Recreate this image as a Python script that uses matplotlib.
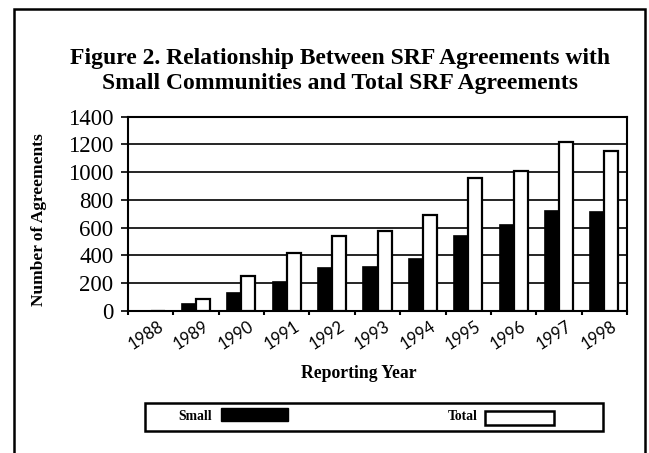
#!/usr/bin/env python3
"""Figure 2: SRF agreements with small communities vs total SRF agreements."""

import matplotlib
matplotlib.use("Agg")
import matplotlib.pyplot as plt
import numpy as np
from matplotlib.patches import Rectangle
from matplotlib.transforms import ScaledTranslation

YEARS = ["1988", "1989", "1990", "1991", "1992", "1993",
         "1994", "1995", "1996", "1997", "1998"]
SMALL = [0, 50, 130, 210, 310, 315, 370, 540, 620, 720, 710]
TOTAL = [0, 85, 250, 415, 540, 575, 690, 960, 1005, 1220, 1150]
SERIES = ["Small", "Total"]
Y_TICKS = [0, 200, 400, 600, 800, 1000, 1200, 1400]

TITLE_1 = "Figure 2. Relationship Between SRF Agreements with"
TITLE_2 = "Small Communities and Total SRF Agreements"
SERIF = "Liberation Serif"

W, H = 649, 453


def fx(px):
    return px / W


def fy(py):
    return 1 - py / H


def main():
    fig = plt.figure(figsize=(W / 100, H / 100), dpi=100)
    ax = fig.add_axes([fx(128), fy(310.7), fx(627) - fx(128), fy(116.7) - fy(310.7)])

    x = np.arange(len(YEARS))
    w = 0.31
    ax.bar(x - w / 2, SMALL, w, color="black", edgecolor="black", linewidth=1.2, zorder=3)
    ax.bar(x + w / 2, TOTAL, w, color="white", edgecolor="black", linewidth=1.6, zorder=3)

    ax.set_xlim(-0.5, len(YEARS) - 0.5)
    ax.set_ylim(0, 1400)
    ax.set_yticks(Y_TICKS)
    ax.set_yticklabels([str(v) for v in Y_TICKS], fontfamily=SERIF, fontsize=16.5)
    ax.tick_params(axis="y", direction="out", length=5, width=1.2, pad=5.5)
    ax.yaxis.grid(True, color="black", linewidth=1.2)
    ax.set_axisbelow(True)

    ax.set_xticks(x)
    ax.set_xticklabels(YEARS, fontfamily="Lato", fontsize=12)
    ax.set_xticks(np.arange(len(YEARS) + 1) - 0.5, minor=True)
    ax.tick_params(axis="x", which="major", length=0, pad=10)
    ax.tick_params(axis="x", which="minor", direction="out", length=3, width=1.5)
    shift = ScaledTranslation(0.11, 0, fig.dpi_scale_trans)
    for lbl in ax.get_xticklabels():
        lbl.set_rotation(33)
        lbl.set_ha("right")
        lbl.set_va("center")
        lbl.set_rotation_mode("anchor")
        lbl.set_transform(lbl.get_transform() + shift)

    for sp in ax.spines.values():
        sp.set_linewidth(1.5)

    # titles and axis labels
    fig.text(fx(340), fy(64), TITLE_1, ha="center", va="baseline",
             fontfamily=SERIF, fontweight="bold", fontsize=17)
    fig.text(fx(340), fy(89), TITLE_2, ha="center", va="baseline",
             fontfamily=SERIF, fontweight="bold", fontsize=17)
    fig.text(fx(39), fy(220), "Number of Agreements", rotation=90, ha="center", va="center",
             fontfamily=SERIF, fontweight="bold", fontsize=12.5)
    fig.text(fx(359), fy(378), "Reporting Year", ha="center", va="baseline",
             fontfamily=SERIF, fontweight="bold", fontsize=12.7)

    # legend strip
    fig.patches.append(Rectangle((fx(145), fy(431)), fx(603) - fx(145), fy(403) - fy(431),
                                 transform=fig.transFigure, facecolor="none",
                                 edgecolor="black", linewidth=1.8))
    fig.patches.append(Rectangle((fx(221), fy(421)), fx(288) - fx(221), fy(408) - fy(421),
                                 transform=fig.transFigure, facecolor="black",
                                 edgecolor="black", linewidth=1))
    fig.patches.append(Rectangle((fx(485), fy(425)), fx(554) - fx(485), fy(411) - fy(425),
                                 transform=fig.transFigure, facecolor="white",
                                 edgecolor="black", linewidth=1.8))
    fig.text(fx(178), fy(416), SERIES[0], ha="left", va="center",
             fontfamily=SERIF, fontweight="bold", fontsize=9.8)
    fig.text(fx(448), fy(417), SERIES[1], ha="left", va="center",
             fontfamily=SERIF, fontweight="bold", fontsize=9.8)

    # outer frame (open at the bottom)
    fig.patches.append(Rectangle((fx(14), fy(470)), fx(645) - fx(14), fy(9) - fy(470),
                                 transform=fig.transFigure, facecolor="none",
                                 edgecolor="black", linewidth=1.8, clip_on=False))

    fig.savefig("out.png", dpi=100)
    plt.close(fig)


if __name__ == "__main__":
    main()
